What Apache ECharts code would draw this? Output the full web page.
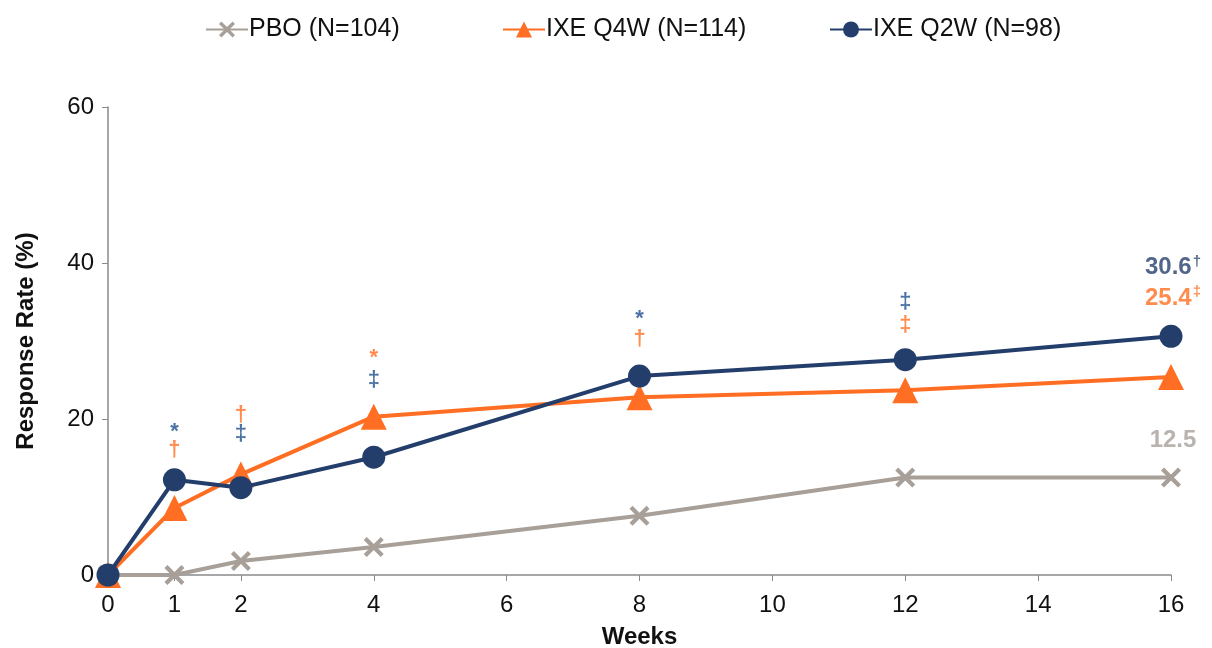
<!DOCTYPE html>
<html><head><meta charset="utf-8">
<script src="https://cdn.jsdelivr.net/npm/echarts@6/dist/echarts.min.js"></script>
<style>html,body{margin:0;padding:0;background:#fff}#c{width:1212px;height:648px}</style>
</head><body><div id="c"></div>
<script>
const weeks = [0, 1, 2, 4, 8, 12, 16];
const tickWeeks = [0, 1, 2, 4, 6, 8, 10, 12, 14, 16];
const pbo = [0, 0, 1.8, 3.6, 7.6, 12.5, 12.5];
const q4w = [0, 8.6, 12.9, 20.3, 22.8, 23.7, 25.4];
const q2w = [0, 12.2, 11.2, 15.1, 25.5, 27.6, 30.6];
const names = ['PBO (N=104)', 'IXE Q4W (N=114)', 'IXE Q2W (N=98)'];
// significance marks: [week, y position in % units, symbol]
const marksQ2W = [[1, 18.3, '*'], [2, 18.1, '‡'], [4, 25.0, '‡'], [8, 32.8, '*'], [12, 35.0, '‡']];
const marksQ4W = [[1, 16.0, '†'], [2, 20.5, '†'], [4, 27.8, '*'], [8, 30.3, '†'], [12, 32.0, '‡']];
// end labels: [week, y position, value text, superscript]
const endQ2W = [16, 39.4, '30.6', '†'];
const endQ4W = [16, 35.5, '25.4', '‡'];
const endPBO = [16, 17.3, '12.5', ''];

const GRAY = '#A79F98', ORANGE = '#FF6E22', NAVY = '#243E6C', BLUE = '#1D4E8C';
const XPATH = 'path://M3,0 L10,7 L17,0 L20,3 L13,10 L20,17 L17,20 L10,13 L3,20 L0,17 L7,10 L0,3 Z';
const FONT = 'Liberation Sans, Arial';

function pairs(vals) { return weeks.map((w, i) => [w, vals[i]]); }
function markSeries(arr, color) {
  return {
    type: 'scatter', symbolSize: 0, silent: true, z: 5,
    data: arr.map(m => ({ value: [m[0], m[1]], label: { formatter: m[2] } })),
    label: { show: true, position: 'inside', color: color, fontFamily: FONT, fontWeight: 'bold', fontSize: 22 }
  };
}
function endSeries(e, color) {
  return {
    type: 'scatter', symbolSize: 0, silent: true, z: 5,
    data: [{ value: [e[0], e[1]] }],
    label: {
      show: true, position: 'inside', offset: [2, 0],
      formatter: '{a|' + e[2] + '}' + (e[3] ? '{s|' + e[3] + '}' : ''),
      rich: {
        a: { color: color, fontFamily: FONT, fontWeight: 'bold', fontSize: 24 },
        s: { color: color, fontFamily: FONT, fontWeight: 'bold', fontSize: 15, verticalAlign: 'top', padding: [0, 0, 12, 1] }
      }
    }
  };
}
function legendAt(left, name) {
  return { top: 12, left: left, itemWidth: 42, itemHeight: 20, data: [name],
    textStyle: { fontSize: 25, color: '#111', fontFamily: FONT, padding: [0, 0, 0, -4] } };
}

const chart = echarts.init(document.getElementById('c'), null, { renderer: 'canvas' });
chart.setOption({
  animation: false,
  textStyle: { fontFamily: FONT },
  legend: [legendAt(200, names[0]), legendAt(497, names[1]), legendAt(824, names[2])],
  grid: { left: 108, right: 41, top: 107, bottom: 73, containLabel: false, outerBoundsMode: 'none' },
  xAxis: {
    type: 'value', min: 0, max: 16,
    name: 'Weeks', nameLocation: 'middle', nameGap: 50,
    nameTextStyle: { fontSize: 24, fontWeight: 'bold', color: '#111' },
    axisLine: { lineStyle: { color: '#8a8a8a', width: 1.5 } },
    axisTick: { show: true, length: 6, customValues: tickWeeks, lineStyle: { color: '#8a8a8a' } },
    axisLabel: { customValues: tickWeeks, fontSize: 24, color: '#111', margin: 18 },
    splitLine: { show: false }
  },
  yAxis: {
    type: 'value', min: 0, max: 60, interval: 20,
    name: 'Response Rate (%)', nameLocation: 'middle', nameGap: 70, nameRotate: 90,
    nameTextStyle: { fontSize: 24, fontWeight: 'bold', color: '#111' },
    axisLine: { show: true, lineStyle: { color: '#8a8a8a', width: 1.5 } },
    axisTick: { show: true, length: 6, lineStyle: { color: '#8a8a8a' } },
    axisLabel: { fontSize: 24, color: '#111', margin: 14 },
    splitLine: { show: false }
  },
  series: [
    { name: names[0], type: 'line', data: pairs(pbo), color: GRAY, symbol: XPATH, symbolSize: 20,
      lineStyle: { width: 4, color: GRAY }, itemStyle: { color: GRAY }, z: 2 },
    { name: names[1], type: 'line', data: pairs(q4w), color: ORANGE, symbol: 'triangle', symbolSize: 26,
      lineStyle: { width: 4, color: ORANGE }, itemStyle: { color: ORANGE }, z: 3 },
    { name: names[2], type: 'line', data: pairs(q2w), color: NAVY, symbol: 'circle', symbolSize: 23,
      lineStyle: { width: 4, color: NAVY }, itemStyle: { color: NAVY }, z: 4 },
    markSeries(marksQ2W, BLUE),
    markSeries(marksQ4W, ORANGE),
    endSeries(endQ2W, NAVY),
    endSeries(endQ4W, ORANGE),
    endSeries(endPBO, GRAY)
  ]
});
</script></body></html>
